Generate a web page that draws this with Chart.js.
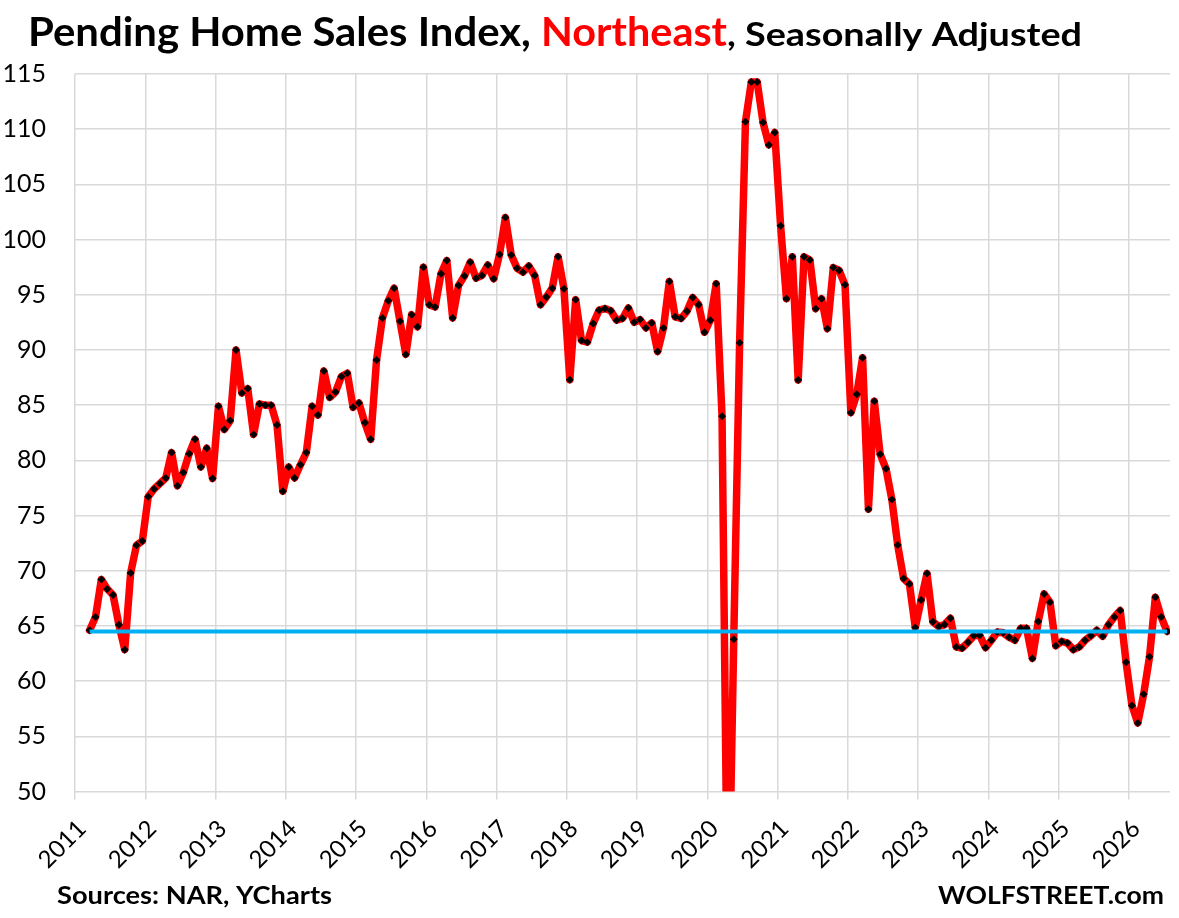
<!DOCTYPE html>
<html>
<head>
<meta charset="utf-8">
<script src="https://cdn.jsdelivr.net/npm/chart.js@4.4.1/dist/chart.umd.min.js"></script>
<style>
html,body{margin:0;padding:0;background:#ffffff;overflow:hidden}
#wrap{position:relative;width:1179px;height:918px}
canvas{display:block}
</style>
</head>
<body>
<div id="wrap"><canvas id="c" width="1179" height="918"></canvas></div>
<script>
// ---- data (monthly, starting March 2011) ----
const startYear = 2011;
const startMonth = 3;
const v2011 = [64.6, 65.8, 69.2, 68.35, 67.8, 65.1, 62.85, 69.8, 72.3, 72.7];
const v2012 = [76.7, 77.4, 77.9, 78.4, 80.7, 77.7, 78.9, 80.6, 81.9, 79.4, 81.1, 78.35];
const v2013 = [84.9, 82.8, 83.6, 90.0, 86.1, 86.5, 82.35, 85.1, 85.0, 85.0, 83.2, 77.2];
const v2014 = [79.4, 78.4, 79.6, 80.7, 84.9, 84.1, 88.1, 85.7, 86.2, 87.6, 87.9, 84.8];
const v2015 = [85.2, 83.4, 81.9, 89.1, 92.9, 94.45, 95.6, 92.6, 89.6, 93.2, 92.1, 97.5];
const v2016 = [94.1, 93.9, 96.9, 98.1, 92.9, 95.85, 96.7, 97.95, 96.5, 96.75, 97.7, 96.45];
const v2017 = [98.65, 102.0, 98.6, 97.4, 97.05, 97.6, 96.75, 94.1, 94.8, 95.6, 98.45, 95.55];
const v2018 = [87.3, 94.55, 90.85, 90.7, 92.4, 93.6, 93.75, 93.55, 92.7, 92.85, 93.8, 92.5];
const v2019 = [92.75, 92.0, 92.45, 89.85, 92.0, 96.2, 93.0, 92.85, 93.5, 94.75, 94.1, 91.6];
const v2020 = [92.7, 96.0, 84.0, 35.0, 63.8, 90.66, 110.68, 114.28, 114.28, 110.6, 108.57, 109.7];
const v2021 = [101.26, 94.65, 98.45, 87.28, 98.45, 98.15, 93.74, 94.65, 91.93, 97.46, 97.2, 95.9];
const v2022 = [84.32, 85.98, 89.3, 75.58, 85.36, 80.56, 79.24, 76.46, 72.32, 69.3, 68.8, 64.85];
const v2023 = [67.35, 69.75, 65.38, 64.95, 65.12, 65.7, 63.1, 62.98, 63.52, 64.1, 64.15, 63.03];
const v2024 = [63.7, 64.45, 64.38, 63.98, 63.7, 64.78, 64.78, 62.06, 65.4, 67.9, 67.15, 63.2];
const v2025 = [63.6, 63.45, 62.85, 63.1, 63.7, 64.1, 64.6, 64.06, 65.1, 65.8, 66.4, 61.7];
const v2026 = [57.8, 56.2, 58.8, 62.2, 67.6, 65.8, 64.5];
const referenceLevel = 64.5;
const yearTicks = [2011,2012,2013,2014,2015,2016,2017,2018,2019,2020,2021,2022,2023,2024,2025,2026];
const yTicks = [50,55,60,65,70,75,80,85,90,95,100,105,110,115];

const titleMain = 'Pending Home Sales Index, ';
const titleRegion = 'Northeast';
const titleSub = ', Seasonally Adjusted';
const sourceText = 'Sources: NAR, YCharts';
const brandText = 'WOLFSTREET.com';

// ---- build points ----
const allValues = [].concat(v2011, v2012, v2013, v2014, v2015, v2016, v2017, v2018,
  v2019, v2020, v2021, v2022, v2023, v2024, v2025, v2026);
function monthToX(i) { return startYear + (startMonth - 1 + i + 0.5) / 12; }
const seriesPoints = allValues.map((v, i) => ({ x: monthToX(i), y: v }));
const firstX = seriesPoints[0].x;
const lastX = seriesPoints[seriesPoints.length - 1].x;
const refPoints = [{ x: firstX, y: referenceLevel }, { x: lastX, y: referenceLevel }];

const FONT = 'Lato';

function fitText(ctx, text, x, baseline, targetW, size, color, align) {
  ctx.save();
  ctx.font = 'bold ' + size + 'px ' + FONT;
  ctx.fillStyle = color;
  ctx.textBaseline = 'alphabetic';
  ctx.textAlign = 'left';
  const w = ctx.measureText(text).width;
  const s = targetW / w;
  const left = align === 'right' ? x - targetW : x;
  ctx.translate(left, baseline);
  ctx.scale(s, 1);
  ctx.fillText(text, 0, 0);
  ctx.restore();
}

const textPlugin = {
  id: 'texts',
  afterDraw(chart) {
    const ctx = chart.ctx;
    const b = 46;
    fitText(ctx, titleMain, 28, b, 513, 40, '#000000');
    fitText(ctx, titleRegion, 541, b, 186, 40, '#FF0000');
    fitText(ctx, titleSub, 727, b, 355, 32, '#000000');
    fitText(ctx, sourceText, 57, 904, 275, 25, '#000000');
    fitText(ctx, brandText, 1164, 904, 226, 25, '#000000', 'right');
  }
};

function build() {
  const ctx = document.getElementById('c').getContext('2d');
  new Chart(ctx, {
    type: 'line',
    data: {
      datasets: [
        {
          label: 'Level',
          data: refPoints,
          borderColor: '#00B0F0',
          borderWidth: 4,
          pointRadius: 0,
          tension: 0,
          fill: false
        },
        {
          label: 'Pending Home Sales Index, Northeast',
          data: seriesPoints,
          borderColor: '#FF0000',
          borderWidth: 7.5,
          borderJoinStyle: 'round',
          borderCapStyle: 'round',
          pointStyle: 'rectRot',
          pointRadius: 4,
          pointBorderWidth: 0,
          pointBackgroundColor: '#000000',
          pointBorderColor: '#000000',
          tension: 0,
          fill: false
        }
      ]
    },
    options: {
      responsive: false,
      animation: false,
      devicePixelRatio: 1,
      layout: { padding: { top: 74, right: 9, left: 0, bottom: 0 } },
      plugins: { legend: { display: false }, tooltip: { enabled: false }, title: { display: false } },
      scales: {
        x: {
          type: 'linear',
          min: 2011,
          max: 2026 + 7 / 12,
          afterFit(scale) { scale.height = 126.5; },
          afterBuildTicks(scale) { scale.ticks = yearTicks.map(v => ({ value: v })); },
          border: { display: false },
          grid: { color: '#D9D9D9', lineWidth: 1.5, drawTicks: true, tickLength: 8, tickColor: '#D9D9D9' },
          ticks: {
            autoSkip: false,
            includeBounds: false,
            minRotation: 45,
            maxRotation: 45,
            padding: 15,
            labelOffset: 7,
            color: '#000000',
            font: { family: FONT, size: 24 },
            callback: (v) => String(v)
          }
        },
        y: {
          min: 50,
          max: 115,
          afterFit(scale) { scale.width = 75; },
          afterBuildTicks(scale) { scale.ticks = yTicks.map(v => ({ value: v })); },
          border: { display: false },
          grid: { color: '#D9D9D9', lineWidth: 1.5, drawTicks: false },
          ticks: {
            padding: 29,
            color: '#000000',
            font: { family: FONT, size: 25 },
            callback: (v) => String(v)
          }
        }
      }
    },
    plugins: [textPlugin]
  });
}

if (document.fonts && document.fonts.load) {
  Promise.all([
    document.fonts.load('24px Lato'),
    document.fonts.load('bold 40px Lato')
  ]).then(build, build);
} else { build(); }
</script>
</body>
</html>
